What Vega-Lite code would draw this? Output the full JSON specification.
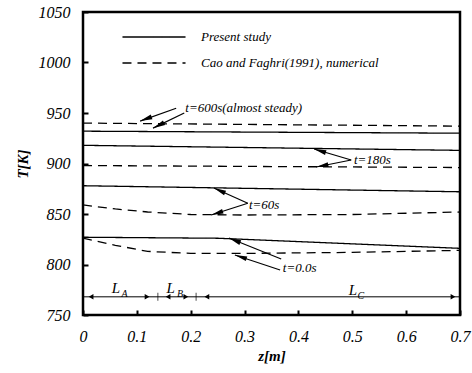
{
  "$schema": "https://vega.github.io/schema/vega-lite/v6.json",
  "width": 377,
  "height": 303,
  "autosize": {"type": "none"},
  "padding": {"left": 83, "top": 12, "right": 12, "bottom": 58},
  "background": "white",
  "config": {
    "view": {"stroke": "black", "strokeWidth": 2.5},
    "font": "Liberation Serif"
  },
  "datasets": {
    "curves": [
      {"series": "p600", "model": "Present study", "z": 0, "T": 932},
      {"series": "p600", "model": "Present study", "z": 0.7, "T": 930},
      {"series": "p180", "model": "Present study", "z": 0, "T": 918},
      {"series": "p180", "model": "Present study", "z": 0.7, "T": 913},
      {"series": "p60", "model": "Present study", "z": 0, "T": 878},
      {"series": "p60", "model": "Present study", "z": 0.7, "T": 872},
      {"series": "p0", "model": "Present study", "z": 0, "T": 827},
      {"series": "p0", "model": "Present study", "z": 0.25, "T": 826},
      {"series": "p0", "model": "Present study", "z": 0.7, "T": 816},
      {"series": "c600", "model": "Cao and Faghri(1991), numerical", "z": 0, "T": 940},
      {"series": "c600", "model": "Cao and Faghri(1991), numerical", "z": 0.7, "T": 937},
      {"series": "c180", "model": "Cao and Faghri(1991), numerical", "z": 0, "T": 898},
      {"series": "c180", "model": "Cao and Faghri(1991), numerical", "z": 0.7, "T": 896},
      {"series": "c60", "model": "Cao and Faghri(1991), numerical", "z": 0, "T": 859},
      {"series": "c60", "model": "Cao and Faghri(1991), numerical", "z": 0.06, "T": 855},
      {"series": "c60", "model": "Cao and Faghri(1991), numerical", "z": 0.12, "T": 852},
      {"series": "c60", "model": "Cao and Faghri(1991), numerical", "z": 0.2, "T": 849.5},
      {"series": "c60", "model": "Cao and Faghri(1991), numerical", "z": 0.3, "T": 849},
      {"series": "c60", "model": "Cao and Faghri(1991), numerical", "z": 0.5, "T": 849.5},
      {"series": "c60", "model": "Cao and Faghri(1991), numerical", "z": 0.7, "T": 852},
      {"series": "c0", "model": "Cao and Faghri(1991), numerical", "z": 0, "T": 826},
      {"series": "c0", "model": "Cao and Faghri(1991), numerical", "z": 0.06, "T": 819},
      {"series": "c0", "model": "Cao and Faghri(1991), numerical", "z": 0.12, "T": 813},
      {"series": "c0", "model": "Cao and Faghri(1991), numerical", "z": 0.2, "T": 811},
      {"series": "c0", "model": "Cao and Faghri(1991), numerical", "z": 0.3, "T": 811},
      {"series": "c0", "model": "Cao and Faghri(1991), numerical", "z": 0.5, "T": 812},
      {"series": "c0", "model": "Cao and Faghri(1991), numerical", "z": 0.7, "T": 814}
    ],
    "arrows": [
      {"z": 0.173, "T": 954.7, "z2": 0.106, "T2": 942, "heading": 250},
      {"z": 0.188, "T": 950, "z2": 0.13, "T2": 935, "heading": 244},
      {"z": 0.498, "T": 903.5, "z2": 0.429, "T2": 914.4, "heading": 287},
      {"z": 0.498, "T": 903.5, "z2": 0.433, "T2": 896.5, "heading": 259},
      {"z": 0.306, "T": 860.6, "z2": 0.243, "T2": 875.7, "heading": 294},
      {"z": 0.306, "T": 860.6, "z2": 0.238, "T2": 849, "heading": 252},
      {"z": 0.368, "T": 805.4, "z2": 0.271, "T2": 826.2, "heading": 292},
      {"z": 0.366, "T": 794.6, "z2": 0.282, "T2": 809.4, "heading": 288}
    ],
    "labels": [
      {"role": "note", "text": "t=600s(almost steady)", "z": 0.19, "T": 955},
      {"role": "note", "text": "t=180s", "z": 0.503, "T": 903.5},
      {"role": "note", "text": "t=60s", "z": 0.308, "T": 859},
      {"role": "note", "text": "t=0.0s", "z": 0.371, "T": 797},
      {"role": "L", "text": "L", "z": 0.061, "T": 777},
      {"role": "sub", "text": "A", "z": 0.077, "T": 771},
      {"role": "L", "text": "L", "z": 0.163, "T": 777},
      {"role": "sub", "text": "B", "z": 0.18, "T": 771},
      {"role": "L", "text": "L", "z": 0.501, "T": 775},
      {"role": "sub", "text": "C", "z": 0.516, "T": 769}
    ],
    "dimline": [{"z": 0, "z2": 0.7, "T": 768}],
    "dimticks": [{"z": 0.139, "T": 768}, {"z": 0.21, "T": 768}],
    "dimheads": [
      {"z": 0.015, "T": 768, "dir": "left"},
      {"z": 0.119, "T": 768, "dir": "right"},
      {"z": 0.158, "T": 768, "dir": "left"},
      {"z": 0.191, "T": 768, "dir": "right"},
      {"z": 0.23, "T": 768, "dir": "left"},
      {"z": 0.687, "T": 768, "dir": "right"}
    ]
  },
  "layer": [
    {
      "data": {"name": "curves"},
      "mark": {"type": "line", "color": "black", "strokeWidth": 1.3},
      "encoding": {
        "x": {
          "field": "z", "type": "quantitative",
          "scale": {"domain": [0, 0.7], "nice": false, "zero": false},
          "axis": {
            "values": [0, 0.1, 0.2, 0.3, 0.4, 0.5, 0.6, 0.7],
            "format": "~g",
            "grid": false, "domain": false,
            "tickSize": -5, "tickWidth": 2, "tickColor": "black",
            "labelFont": "Liberation Serif", "labelFontStyle": "italic", "labelFontSize": 16,
            "labelColor": "black", "labelPadding": 18, "labelFlush": false,
            "title": "z[m]", "titleFont": "Liberation Serif", "titleFontStyle": "italic",
            "titleFontWeight": "bold", "titleFontSize": 15, "titleColor": "black", "titlePadding": 4
          }
        },
        "y": {
          "field": "T", "type": "quantitative",
          "scale": {"domain": [750, 1050], "nice": false, "zero": false},
          "axis": {
            "values": [750, 800, 850, 900, 950, 1000, 1050],
            "format": "d",
            "grid": false, "domain": false,
            "tickSize": -5, "tickWidth": 2, "tickColor": "black",
            "labelFont": "Liberation Serif", "labelFontStyle": "italic", "labelFontSize": 16,
            "labelColor": "black", "labelPadding": 18, "labelFlush": false,
            "title": "T[K]", "titleFont": "Liberation Serif", "titleFontStyle": "italic",
            "titleFontWeight": "bold", "titleFontSize": 15, "titleColor": "black", "titlePadding": 8
          }
        },
        "detail": {"field": "series"},
        "strokeDash": {
          "field": "model", "type": "nominal",
          "scale": {"domain": ["Present study", "Cao and Faghri(1991), numerical"], "range": [[1, 0], [9, 6]]},
          "legend": {
            "orient": "none", "legendX": 64, "legendY": 18, "title": null,
            "symbolType": "M-5,0H5", "symbolSize": 159, "symbolStrokeWidth": 1.3,
            "symbolStrokeColor": "black", "symbolFillColor": "transparent",
            "labelFont": "Liberation Serif", "labelFontStyle": "italic", "labelFontSize": 13,
            "labelColor": "black", "labelOffset": 40, "labelLimit": 0, "rowPadding": 12, "padding": 0
          }
        }
      }
    },
    {
      "data": {"name": "arrows"},
      "mark": {"type": "rule", "color": "black", "strokeWidth": 1.2},
      "encoding": {
        "x": {"field": "z", "type": "quantitative"},
        "y": {"field": "T", "type": "quantitative"},
        "x2": {"field": "z2"},
        "y2": {"field": "T2"}
      }
    },
    {
      "data": {"name": "arrows"},
      "mark": {"type": "point", "shape": "M0,0L0.4,2L-0.4,2Z", "filled": true, "color": "black", "size": 150, "opacity": 1},
      "encoding": {
        "x": {"field": "z2", "type": "quantitative"},
        "y": {"field": "T2", "type": "quantitative"},
        "angle": {"field": "heading", "type": "quantitative", "scale": null}
      }
    },
    {
      "data": {"name": "labels"},
      "transform": [{"filter": "datum.role === 'note'"}],
      "mark": {"type": "text", "align": "left", "baseline": "middle", "font": "Liberation Serif", "fontStyle": "italic", "fontSize": 13, "color": "black"},
      "encoding": {
        "x": {"field": "z", "type": "quantitative"},
        "y": {"field": "T", "type": "quantitative"},
        "text": {"field": "text"}
      }
    },
    {
      "data": {"name": "labels"},
      "transform": [{"filter": "datum.role === 'L'"}],
      "mark": {"type": "text", "align": "center", "baseline": "middle", "font": "Liberation Serif", "fontStyle": "italic", "fontSize": 15, "color": "black"},
      "encoding": {
        "x": {"field": "z", "type": "quantitative"},
        "y": {"field": "T", "type": "quantitative"},
        "text": {"field": "text"}
      }
    },
    {
      "data": {"name": "labels"},
      "transform": [{"filter": "datum.role === 'sub'"}],
      "mark": {"type": "text", "align": "center", "baseline": "middle", "font": "Liberation Serif", "fontStyle": "italic", "fontSize": 10, "color": "black"},
      "encoding": {
        "x": {"field": "z", "type": "quantitative"},
        "y": {"field": "T", "type": "quantitative"},
        "text": {"field": "text"}
      }
    },
    {
      "data": {"name": "dimline"},
      "mark": {"type": "rule", "color": "black", "strokeWidth": 1},
      "encoding": {
        "x": {"field": "z", "type": "quantitative"},
        "x2": {"field": "z2"},
        "y": {"field": "T", "type": "quantitative"}
      }
    },
    {
      "data": {"name": "dimticks"},
      "mark": {"type": "tick", "orient": "vertical", "color": "black", "size": 8, "thickness": 1},
      "encoding": {
        "x": {"field": "z", "type": "quantitative"},
        "y": {"field": "T", "type": "quantitative"}
      }
    },
    {
      "data": {"name": "dimheads"},
      "mark": {"type": "point", "filled": true, "color": "black", "size": 30, "opacity": 1},
      "encoding": {
        "x": {"field": "z", "type": "quantitative"},
        "y": {"field": "T", "type": "quantitative"},
        "shape": {"field": "dir", "type": "nominal", "scale": {"domain": ["left", "right"], "range": ["triangle-left", "triangle-right"]}, "legend": null}
      }
    }
  ]
}
